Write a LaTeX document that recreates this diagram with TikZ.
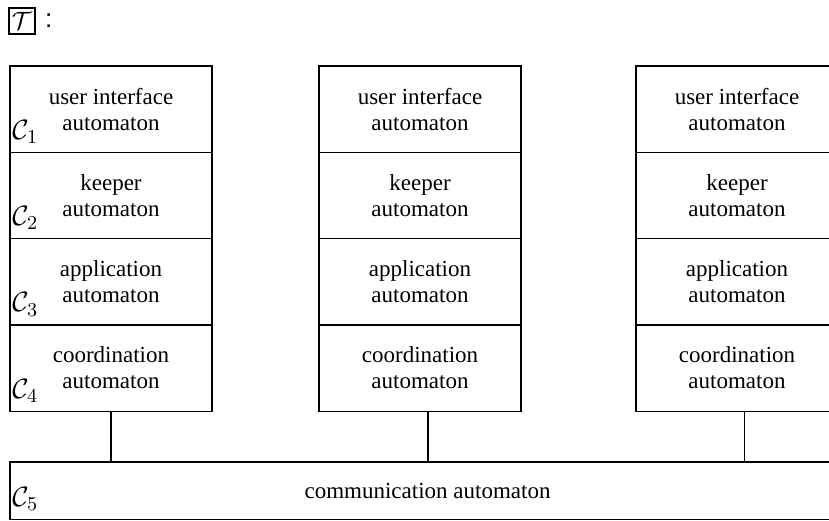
\documentclass[tikz,border=0pt]{standalone}
\usepackage{fontspec}
\usepackage{fix-cm}
\setmainfont{Liberation Serif}
\newfontfamily\colonfont{Liberation Sans}
\usetikzlibrary{positioning}

\tikzset{
  layer/.style={draw, line width=0.6pt, outer sep=0pt, inner sep=0pt,
    minimum width=101pt, minimum height=43.15pt, align=center,
    font=\fontsize{11.5}{13}\selectfont},
  commbox/.style={draw, line width=0.6pt, outer sep=0pt, inner sep=0pt,
    minimum width=417.5pt, minimum height=28.75pt,
    font=\fontsize{11.5}{13}\selectfont},
  clabel/.style={anchor=south west, inner sep=1pt, yshift=3.2pt,
    font=\fontsize{14}{16}\selectfont},
  link/.style={line width=0.6pt}
}

\begin{document}
\begin{tikzpicture}[x=0.5pt,y=-0.5pt]
\useasboundingbox (0,0) rectangle (829,520);
\clip (0,0) rectangle (829,520);

% title
\node [draw, line width=0.9pt, inner sep=0pt, minimum size=13pt, anchor=north west,
  font=\fontsize{12.5}{14}\selectfont] (tbox) at (8,7) {$\mathcal{T}$};
\node [right=4.5pt of tbox, inner sep=0pt, font=\colonfont\fontsize{13}{15}\selectfont] (tcolon) {:};

% first stack
\node [layer, anchor=north west] (ui1) at (10,66) {user interface\\automaton};
\node [layer, below=0pt of ui1] (kp1) {keeper\\automaton};
\node [layer, below=0pt of kp1] (ap1) {application\\automaton};
\node [layer, below=0pt of ap1] (co1) {coordination\\automaton};

% second stack
\node [layer, anchor=north west] (ui2) at (319,66) {user interface\\automaton};
\node [layer, below=0pt of ui2] (kp2) {keeper\\automaton};
\node [layer, below=0pt of kp2] (ap2) {application\\automaton};
\node [layer, below=0pt of ap2] (co2) {coordination\\automaton};

% third stack
\node [layer, anchor=north west] (ui3) at (636,66) {user interface\\automaton};
\node [layer, below=0pt of ui3] (kp3) {keeper\\automaton};
\node [layer, below=0pt of kp3] (ap3) {application\\automaton};
\node [layer, below=0pt of ap3] (co3) {coordination\\automaton};

% communication layer
\node [commbox, anchor=north west] (comm) at (10,462) {communication automaton};

% layer names
\node [clabel] (lab1) at (ui1.south west) {$\mathcal{C}_1$};
\node [clabel] (lab2) at (kp1.south west) {$\mathcal{C}_2$};
\node [clabel] (lab3) at (ap1.south west) {$\mathcal{C}_3$};
\node [clabel] (lab4) at (co1.south west) {$\mathcal{C}_4$};
\node [clabel] (lab5) at (comm.south west) {$\mathcal{C}_5$};

% links to the communication automaton
\draw [link] (co1.south) -- (co1.south |- comm.north);
\draw [link] ([xshift=4pt]co2.south) -- ([xshift=4pt]co2.south |- comm.north);
\draw [link] ([xshift=3.6pt]co3.south) -- ([xshift=3.6pt]co3.south |- comm.north);

\end{tikzpicture}
\end{document}
